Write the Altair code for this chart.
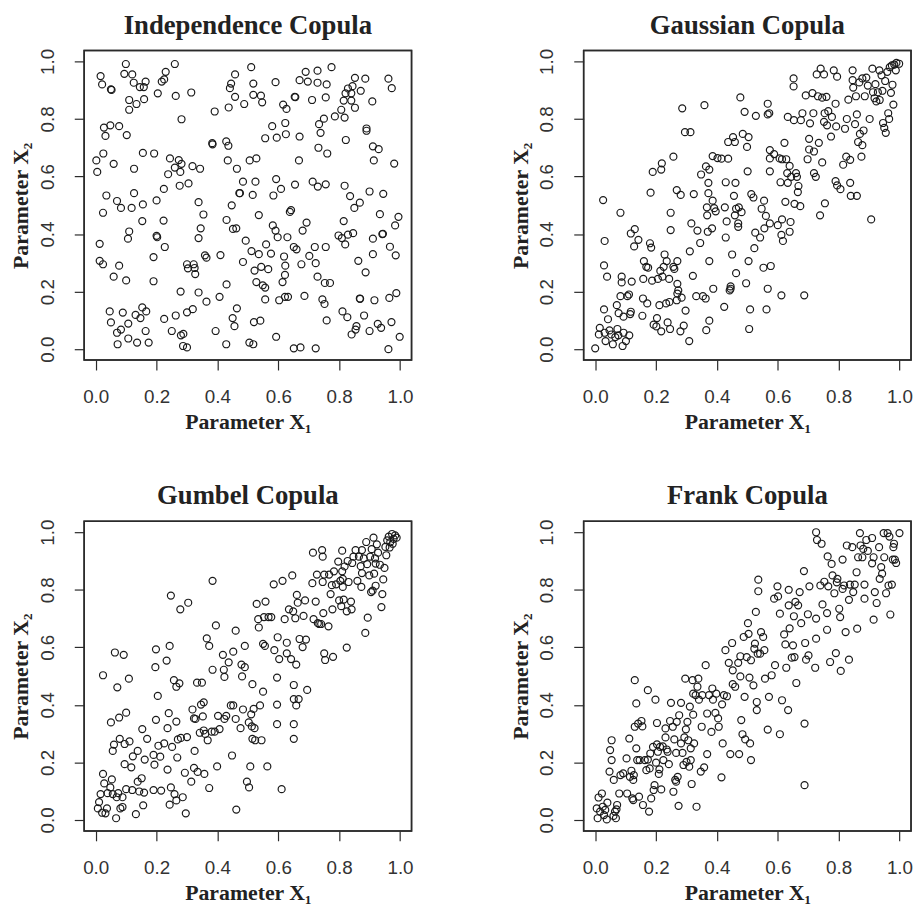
import altair as alt
import pandas as pd

# ---------------- data ----------------
independence_pts = [
    (0.099, 0.991), (0.26, 0.991), (0.511, 0.98), (0.775, 0.98), (0.016, 0.949), (0.021, 0.92),
    (0.094, 0.957), (0.12, 0.955), (0.125, 0.926), (0.145, 0.911), (0.164, 0.93), (0.158, 0.911),
    (0.23, 0.964), (0.225, 0.9375), (0.217, 0.93), (0.05, 0.903), (0.052, 0.901), (0.11, 0.866),
    (0.11, 0.832), (0.134, 0.852), (0.159, 0.869), (0.204, 0.889), (0.263, 0.88), (0.314, 0.892),
    (0.282, 0.799), (0.458, 0.955), (0.445, 0.923), (0.441, 0.907), (0.458, 0.877), (0.488, 0.852),
    (0.437, 0.84), (0.391, 0.826), (0.518, 0.923), (0.518, 0.884), (0.543, 0.881), (0.547, 0.858),
    (0.591, 0.928), (0.616, 0.85), (0.627, 0.835), (0.654, 0.877), (0.656, 0.876), (0.67, 0.935),
    (0.69, 0.964), (0.697, 0.93), (0.729, 0.968), (0.729, 0.926), (0.759, 0.92), (0.756, 0.875),
    (0.711, 0.866), (0.852, 0.943), (0.886, 0.94), (0.829, 0.906), (0.844, 0.914), (0.871, 0.898),
    (0.84, 0.889), (0.821, 0.889), (0.815, 0.864), (0.84, 0.864), (0.852, 0.839), (0.807, 0.832),
    (0.818, 0.805), (0.786, 0.809), (0.909, 0.861), (0.962, 0.94), (0.973, 0.907), (0.75, 0.801),
    (0.734, 0.782), (0.739, 0.752), (0.732, 0.7), (0.761, 0.68),
    (0.027, 0.77), (0.032, 0.741), (0.048, 0.778), (0.077, 0.775), (0.102, 0.744), (0.025, 0.68),
    (0.002, 0.656), (0.005, 0.616), (0.059, 0.644), (0.155, 0.682), (0.192, 0.68), (0.126, 0.627),
    (0.244, 0.663), (0.273, 0.657), (0.282, 0.644), (0.26, 0.631), (0.238, 0.608), (0.278, 0.616),
    (0.318, 0.636), (0.343, 0.627), (0.276, 0.568), (0.305, 0.576), (0.383, 0.716), (0.384, 0.712),
    (0.429, 0.722), (0.436, 0.707), (0.434, 0.656), (0.464, 0.627), (0.506, 0.656), (0.528, 0.663),
    (0.557, 0.733), (0.58, 0.775), (0.595, 0.735), (0.623, 0.786), (0.625, 0.747), (0.67, 0.739),
    (0.668, 0.656), (0.593, 0.591), (0.609, 0.557), (0.584, 0.534), (0.525, 0.582), (0.516, 0.536),
    (0.484, 0.582), (0.472, 0.542), (0.655, 0.572), (0.713, 0.582), (0.73, 0.565), (0.756, 0.573),
    (0.89, 0.767), (0.89, 0.759), (0.911, 0.705), (0.93, 0.695), (0.914, 0.656), (0.981, 0.645),
    (0.822, 0.727),
    (0.035, 0.534), (0.024, 0.474), (0.07, 0.515), (0.083, 0.491), (0.118, 0.491), (0.126, 0.542),
    (0.155, 0.503), (0.153, 0.445), (0.2, 0.517), (0.224, 0.557), (0.223, 0.447), (0.11, 0.409),
    (0.106, 0.384), (0.2, 0.394), (0.202, 0.389), (0.338, 0.511), (0.354, 0.468), (0.345, 0.42),
    (0.338, 0.386), (0.447, 0.5), (0.43, 0.449), (0.451, 0.418), (0.462, 0.42), (0.474, 0.542),
    (0.536, 0.466), (0.493, 0.377), (0.582, 0.43), (0.591, 0.412), (0.598, 0.389), (0.638, 0.477),
    (0.642, 0.483), (0.63, 0.389), (0.68, 0.412), (0.693, 0.44), (0.818, 0.568), (0.836, 0.532),
    (0.85, 0.491), (0.868, 0.509), (0.9, 0.548), (0.945, 0.54), (0.934, 0.469), (0.995, 0.46),
    (0.984, 0.43), (0.815, 0.445), (0.798, 0.395), (0.809, 0.386), (0.829, 0.398), (0.846, 0.403),
    (0.82, 0.364), (0.911, 0.384), (0.942, 0.4), (0.944, 0.401),
    (0.013, 0.366), (0.013, 0.307), (0.024, 0.295), (0.059, 0.252), (0.1, 0.239), (0.077, 0.29),
    (0.19, 0.32), (0.19, 0.236), (0.227, 0.355), (0.3, 0.295), (0.303, 0.281), (0.322, 0.295),
    (0.325, 0.282), (0.327, 0.261), (0.359, 0.326), (0.364, 0.318), (0.41, 0.327), (0.279, 0.2),
    (0.338, 0.197), (0.484, 0.303), (0.512, 0.341), (0.536, 0.33), (0.56, 0.364), (0.576, 0.332),
    (0.544, 0.286), (0.522, 0.273), (0.567, 0.278), (0.528, 0.233), (0.549, 0.222), (0.557, 0.214),
    (0.614, 0.233), (0.619, 0.322), (0.623, 0.29), (0.622, 0.258), (0.651, 0.355), (0.66, 0.347),
    (0.72, 0.355), (0.723, 0.299), (0.676, 0.295), (0.702, 0.324), (0.729, 0.252), (0.753, 0.23),
    (0.77, 0.23), (0.756, 0.355), (0.863, 0.307), (0.887, 0.267), (0.911, 0.33), (0.986, 0.326),
    (0.967, 0.356),
    (0.046, 0.131), (0.05, 0.093), (0.07, 0.057), (0.083, 0.068), (0.072, 0.017), (0.089, 0.127),
    (0.107, 0.089), (0.107, 0.037), (0.131, 0.119), (0.147, 0.108), (0.153, 0.145), (0.166, 0.131),
    (0.136, 0.023), (0.164, 0.063), (0.174, 0.023), (0.225, 0.105), (0.263, 0.117), (0.25, 0.063),
    (0.28, 0.048), (0.288, 0.053), (0.287, 0.011), (0.3, 0.006), (0.3, 0.128), (0.319, 0.139),
    (0.364, 0.165), (0.394, 0.063), (0.407, 0.182), (0.43, 0.225), (0.429, 0.017), (0.45, 0.108),
    (0.456, 0.08), (0.464, 0.142), (0.505, 0.023), (0.518, 0.017), (0.52, 0.094), (0.541, 0.099),
    (0.557, 0.173), (0.593, 0.043), (0.603, 0.17), (0.622, 0.182), (0.632, 0.182), (0.651, 0.003),
    (0.673, 0.006), (0.686, 0.185), (0.723, 0.003), (0.745, 0.173), (0.752, 0.157), (0.759, 0.1),
    (0.811, 0.131), (0.827, 0.111), (0.857, 0.08), (0.854, 0.068), (0.841, 0.051), (0.868, 0.176),
    (0.869, 0.175), (0.882, 0.117), (0.9, 0.063), (0.916, 0.17), (0.927, 0.088), (0.938, 0.074),
    (0.965, 0.178), (0.988, 0.195), (0.972, 0.094), (0.962, 0.0), (0.999, 0.043),
]

gaussian_pts = [
    (0.0, 0.003), (0.026, 0.518), (0.031, 0.376), (0.029, 0.291), (0.039, 0.252), (0.029, 0.138),
    (0.042, 0.104), (0.015, 0.074), (0.012, 0.051), (0.031, 0.057), (0.034, 0.028), (0.047, 0.065),
    (0.053, 0.051), (0.058, 0.017), (0.066, 0.042), (0.073, 0.07), (0.076, 0.048), (0.09, 0.011),
    (0.093, 0.057), (0.101, 0.028), (0.112, 0.048), (0.071, 0.153), (0.083, 0.474), (0.087, 0.252),
    (0.087, 0.232), (0.083, 0.184), (0.077, 0.125), (0.093, 0.113), (0.115, 0.122), (0.117, 0.13),
    (0.106, 0.184), (0.111, 0.19), (0.12, 0.235), (0.117, 0.402), (0.13, 0.417), (0.128, 0.357),
    (0.142, 0.38), (0.155, 0.116), (0.157, 0.176), (0.171, 0.159), (0.158, 0.244), (0.16, 0.306),
    (0.168, 0.286), (0.174, 0.283), (0.18, 0.368), (0.184, 0.353), (0.187, 0.238), (0.182, 0.544),
    (0.189, 0.616), (0.217, 0.624), (0.219, 0.646), (0.257, 0.669), (0.192, 0.085), (0.201, 0.079),
    (0.203, 0.108), (0.217, 0.062), (0.206, 0.244), (0.214, 0.272), (0.211, 0.153), (0.221, 0.252),
    (0.225, 0.286), (0.228, 0.329), (0.235, 0.306), (0.233, 0.159), (0.244, 0.164), (0.243, 0.244),
    (0.238, 0.093), (0.246, 0.07), (0.248, 0.414), (0.248, 0.474), (0.257, 0.286), (0.26, 0.279),
    (0.268, 0.553), (0.27, 0.306), (0.268, 0.17), (0.27, 0.193), (0.27, 0.227), (0.273, 0.204),
    (0.28, 0.062), (0.284, 0.179), (0.281, 0.536), (0.286, 0.837), (0.291, 0.082), (0.297, 0.134),
    (0.295, 0.754), (0.313, 0.754), (0.309, 0.028), (0.311, 0.34), (0.316, 0.437), (0.321, 0.255),
    (0.324, 0.539), (0.332, 0.184), (0.336, 0.412), (0.345, 0.369), (0.348, 0.607), (0.354, 0.184),
    (0.363, 0.176), (0.359, 0.848), (0.365, 0.066), (0.368, 0.465), (0.367, 0.493), (0.37, 0.408),
    (0.364, 0.635), (0.375, 0.624), (0.375, 0.099), (0.375, 0.306), (0.372, 0.542), (0.372, 0.578),
    (0.386, 0.671), (0.386, 0.516), (0.388, 0.21), (0.391, 0.49), (0.384, 0.42), (0.396, 0.479),
    (0.402, 0.664), (0.415, 0.662), (0.426, 0.493), (0.429, 0.58), (0.429, 0.388), (0.432, 0.444),
    (0.437, 0.662), (0.437, 0.72), (0.442, 0.204), (0.445, 0.21), (0.445, 0.218), (0.45, 0.329),
    (0.453, 0.737), (0.459, 0.465), (0.461, 0.578), (0.456, 0.533), (0.463, 0.488), (0.47, 0.437),
    (0.47, 0.425), (0.463, 0.264), (0.459, 0.72), (0.472, 0.493), (0.477, 0.875), (0.481, 0.476),
    (0.424, 0.147), (0.485, 0.748), (0.491, 0.825), (0.499, 0.703), (0.504, 0.737), (0.501, 0.618),
    (0.496, 0.229), (0.504, 0.306), (0.506, 0.07), (0.509, 0.138), (0.513, 0.539), (0.52, 0.527),
    (0.523, 0.351), (0.526, 0.405), (0.528, 0.811), (0.542, 0.388), (0.547, 0.488), (0.553, 0.283),
    (0.555, 0.516), (0.556, 0.42), (0.561, 0.463), (0.567, 0.816), (0.567, 0.853), (0.572, 0.82),
    (0.563, 0.138), (0.567, 0.21), (0.574, 0.618), (0.574, 0.692), (0.574, 0.663), (0.577, 0.289),
    (0.574, 0.437), (0.588, 0.678), (0.6, 0.431), (0.606, 0.663), (0.609, 0.58), (0.612, 0.187),
    (0.614, 0.66), (0.612, 0.397), (0.614, 0.451), (0.617, 0.376), (0.622, 0.717), (0.625, 0.512),
    (0.628, 0.66), (0.631, 0.612), (0.633, 0.578), (0.633, 0.807), (0.639, 0.408), (0.642, 0.442),
    (0.639, 0.637), (0.644, 0.599), (0.652, 0.941), (0.652, 0.913), (0.653, 0.796), (0.655, 0.505),
    (0.66, 0.612), (0.663, 0.599), (0.666, 0.546), (0.668, 0.567), (0.674, 0.497), (0.676, 0.796),
    (0.681, 0.82), (0.687, 0.187), (0.692, 0.882), (0.698, 0.66), (0.703, 0.694), (0.703, 0.731),
    (0.706, 0.785), (0.714, 0.89), (0.717, 0.82), (0.719, 0.687), (0.719, 0.612), (0.725, 0.599),
    (0.728, 0.955), (0.732, 0.879), (0.735, 0.717), (0.739, 0.465), (0.741, 0.975), (0.746, 0.649),
    (0.746, 0.874), (0.752, 0.955), (0.752, 0.79), (0.754, 0.82), (0.755, 0.507), (0.76, 0.877),
    (0.762, 0.778), (0.775, 0.739), (0.778, 0.807), (0.784, 0.969), (0.795, 0.947), (0.79, 0.853),
    (0.792, 0.774), (0.79, 0.584), (0.795, 0.569), (0.806, 0.556), (0.815, 0.641), (0.821, 0.766),
    (0.827, 0.8), (0.825, 0.669), (0.832, 0.867), (0.838, 0.578), (0.838, 0.658), (0.84, 0.533),
    (0.846, 0.969), (0.846, 0.935), (0.848, 0.909), (0.854, 0.782), (0.857, 0.879), (0.86, 0.816),
    (0.86, 0.533), (0.868, 0.927), (0.864, 0.72), (0.87, 0.748), (0.878, 0.941), (0.875, 0.669),
    (0.878, 0.709), (0.882, 0.76), (0.886, 0.879), (0.891, 0.944), (0.896, 0.916), (0.902, 0.8),
    (0.907, 0.451), (0.911, 0.975), (0.913, 0.893), (0.918, 0.872), (0.921, 0.921), (0.924, 0.861),
    (0.929, 0.893), (0.934, 0.969), (0.935, 0.866), (0.941, 0.952), (0.944, 0.898), (0.946, 0.786),
    (0.95, 0.769), (0.955, 0.752), (0.953, 0.932), (0.96, 0.964), (0.963, 0.82), (0.968, 0.98),
    (0.972, 0.891), (0.975, 0.986), (0.977, 0.919), (0.98, 0.85), (0.983, 0.989), (0.988, 0.969),
    (0.99, 0.995), (0.999, 0.992), (0.966, 0.8), (0.766, 0.827),
]

gumbel_pts = [
    (0.016, 0.09), (0.024, 0.503), (0.011, 0.062), (0.007, 0.04), (0.021, 0.025), (0.032, 0.023),
    (0.037, 0.04), (0.024, 0.16), (0.028, 0.127), (0.039, 0.093), (0.048, 0.113), (0.053, 0.141),
    (0.056, 0.09), (0.05, 0.339), (0.056, 0.24), (0.06, 0.262), (0.063, 0.582), (0.067, 0.006),
    (0.069, 0.079), (0.071, 0.461), (0.077, 0.356), (0.079, 0.282), (0.074, 0.093), (0.081, 0.04),
    (0.088, 0.045), (0.088, 0.079), (0.092, 0.574), (0.095, 0.264), (0.095, 0.194), (0.1, 0.373),
    (0.1, 0.107), (0.109, 0.491), (0.111, 0.273), (0.117, 0.183), (0.12, 0.104), (0.122, 0.221),
    (0.132, 0.02), (0.138, 0.24), (0.138, 0.133), (0.143, 0.099), (0.151, 0.145), (0.153, 0.316),
    (0.156, 0.051), (0.161, 0.21), (0.159, 0.095), (0.169, 0.282), (0.19, 0.226), (0.19, 0.104),
    (0.193, 0.192), (0.198, 0.593), (0.196, 0.531), (0.198, 0.348), (0.204, 0.431), (0.206, 0.258),
    (0.212, 0.22), (0.215, 0.102), (0.225, 0.266), (0.233, 0.554), (0.236, 0.175), (0.236, 0.319),
    (0.24, 0.371), (0.243, 0.053), (0.247, 0.78), (0.243, 0.605), (0.247, 0.113), (0.251, 0.254),
    (0.257, 0.486), (0.259, 0.09), (0.265, 0.068), (0.265, 0.342), (0.268, 0.217), (0.265, 0.463),
    (0.27, 0.28), (0.275, 0.475), (0.278, 0.732), (0.28, 0.285), (0.286, 0.079), (0.293, 0.164),
    (0.296, 0.023), (0.3, 0.288), (0.304, 0.755), (0.318, 0.384), (0.323, 0.353), (0.325, 0.24),
    (0.323, 0.181), (0.314, 0.133), (0.333, 0.477), (0.328, 0.351), (0.335, 0.167), (0.342, 0.303),
    (0.346, 0.401), (0.349, 0.477), (0.355, 0.409), (0.352, 0.36), (0.357, 0.16), (0.355, 0.311),
    (0.36, 0.299), (0.365, 0.631), (0.368, 0.277), (0.373, 0.605), (0.373, 0.111), (0.381, 0.307),
    (0.384, 0.522), (0.384, 0.831), (0.391, 0.307), (0.395, 0.676), (0.399, 0.186), (0.402, 0.362),
    (0.407, 0.316), (0.418, 0.574), (0.421, 0.522), (0.423, 0.497), (0.423, 0.351), (0.429, 0.362),
    (0.437, 0.548), (0.444, 0.398), (0.448, 0.224), (0.452, 0.585), (0.452, 0.398), (0.46, 0.351),
    (0.46, 0.658), (0.462, 0.036), (0.476, 0.319), (0.479, 0.54), (0.481, 0.499), (0.484, 0.384),
    (0.49, 0.605), (0.49, 0.531), (0.497, 0.133), (0.503, 0.339), (0.504, 0.113), (0.508, 0.186),
    (0.511, 0.367), (0.513, 0.325), (0.515, 0.282), (0.515, 0.472), (0.519, 0.386), (0.522, 0.319),
    (0.524, 0.277), (0.529, 0.751), (0.534, 0.698), (0.536, 0.669), (0.54, 0.398), (0.545, 0.277),
    (0.55, 0.612), (0.55, 0.446), (0.553, 0.705), (0.556, 0.605), (0.558, 0.759), (0.564, 0.186),
    (0.568, 0.705), (0.577, 0.705), (0.585, 0.819), (0.587, 0.59), (0.596, 0.495), (0.596, 0.401),
    (0.596, 0.333), (0.598, 0.635), (0.603, 0.559), (0.611, 0.107), (0.614, 0.831), (0.621, 0.698),
    (0.628, 0.616), (0.628, 0.579), (0.635, 0.732), (0.642, 0.559), (0.646, 0.85), (0.649, 0.725),
    (0.651, 0.469), (0.651, 0.42), (0.651, 0.333), (0.651, 0.282), (0.656, 0.701), (0.659, 0.54),
    (0.659, 0.398), (0.661, 0.782), (0.664, 0.755), (0.667, 0.42), (0.67, 0.629), (0.68, 0.601),
    (0.683, 0.709), (0.688, 0.763), (0.691, 0.627), (0.695, 0.452), (0.712, 0.823), (0.714, 0.929),
    (0.716, 0.698), (0.723, 0.759), (0.727, 0.853), (0.73, 0.684), (0.735, 0.681), (0.741, 0.681),
    (0.744, 0.938), (0.746, 0.915), (0.746, 0.827), (0.748, 0.719), (0.751, 0.579), (0.754, 0.556),
    (0.751, 0.853), (0.765, 0.673), (0.767, 0.853), (0.772, 0.785), (0.776, 0.816), (0.778, 0.732),
    (0.78, 0.567), (0.783, 0.864), (0.79, 0.819), (0.797, 0.898), (0.8, 0.763), (0.804, 0.831),
    (0.807, 0.743), (0.81, 0.936), (0.81, 0.864), (0.812, 0.81), (0.815, 0.766), (0.818, 0.881),
    (0.825, 0.725), (0.825, 0.599), (0.828, 0.9), (0.831, 0.827), (0.839, 0.759), (0.841, 0.732),
    (0.843, 0.893), (0.847, 0.915), (0.854, 0.938), (0.86, 0.831), (0.865, 0.915), (0.871, 0.882),
    (0.873, 0.81), (0.875, 0.938), (0.881, 0.909), (0.886, 0.65), (0.889, 0.966), (0.892, 0.889),
    (0.894, 0.703), (0.899, 0.85), (0.902, 0.915), (0.907, 0.941), (0.91, 0.797), (0.913, 0.981),
    (0.915, 0.856), (0.918, 0.909), (0.92, 0.891), (0.924, 0.958), (0.928, 0.929), (0.934, 0.887),
    (0.939, 0.74), (0.942, 0.785), (0.945, 0.836), (0.949, 0.876), (0.952, 0.949), (0.955, 0.92),
    (0.958, 0.972), (0.963, 0.985), (0.968, 0.966), (0.974, 0.994), (0.979, 0.977), (0.984, 0.989),
    (0.989, 0.981), (0.976, 0.96), (0.966, 0.947), (0.92, 0.814), (0.905, 0.792), (0.875, 0.858),
    (0.812, 0.838),
]

frank_pts = [
    (0.008, 0.006), (0.005, 0.04), (0.011, 0.078), (0.016, 0.029), (0.022, 0.092), (0.025, 0.046),
    (0.029, 0.017), (0.033, 0.035), (0.038, 0.002), (0.04, 0.06), (0.047, 0.168), (0.049, 0.243),
    (0.054, 0.208), (0.054, 0.277), (0.06, 0.014), (0.061, 0.139), (0.065, 0.029), (0.068, 0.006),
    (0.07, 0.037), (0.072, 0.052), (0.079, 0.092), (0.083, 0.156), (0.092, 0.162), (0.103, 0.214),
    (0.105, 0.092), (0.112, 0.283), (0.114, 0.15), (0.119, 0.171), (0.122, 0.075), (0.125, 0.139),
    (0.125, 0.069), (0.127, 0.156), (0.13, 0.486), (0.13, 0.324), (0.135, 0.405), (0.135, 0.249),
    (0.138, 0.208), (0.141, 0.335), (0.144, 0.081), (0.146, 0.208), (0.152, 0.344), (0.155, 0.325),
    (0.157, 0.052), (0.163, 0.208), (0.168, 0.173), (0.173, 0.451), (0.173, 0.21), (0.177, 0.029),
    (0.179, 0.179), (0.181, 0.231), (0.184, 0.075), (0.19, 0.254), (0.192, 0.104), (0.195, 0.121),
    (0.198, 0.418), (0.2, 0.199), (0.203, 0.337), (0.203, 0.263), (0.206, 0.237), (0.209, 0.16),
    (0.211, 0.176), (0.213, 0.254), (0.217, 0.106), (0.222, 0.256), (0.224, 0.208), (0.231, 0.287),
    (0.231, 0.318), (0.235, 0.245), (0.238, 0.237), (0.242, 0.194), (0.246, 0.344), (0.249, 0.407),
    (0.255, 0.324), (0.26, 0.28), (0.257, 0.098), (0.263, 0.139), (0.266, 0.133), (0.266, 0.233),
    (0.268, 0.341), (0.271, 0.15), (0.274, 0.049), (0.276, 0.364), (0.282, 0.407), (0.282, 0.266),
    (0.287, 0.233), (0.29, 0.191), (0.293, 0.287), (0.296, 0.491), (0.298, 0.315), (0.3, 0.202),
    (0.303, 0.341), (0.306, 0.277), (0.309, 0.185), (0.311, 0.394), (0.314, 0.249), (0.314, 0.208),
    (0.317, 0.125), (0.32, 0.486), (0.322, 0.366), (0.322, 0.439), (0.325, 0.266), (0.33, 0.434),
    (0.333, 0.046), (0.336, 0.463), (0.339, 0.491), (0.341, 0.418), (0.347, 0.168), (0.35, 0.324),
    (0.352, 0.434), (0.358, 0.183), (0.363, 0.538), (0.368, 0.37), (0.368, 0.229), (0.374, 0.434),
    (0.382, 0.306), (0.385, 0.457), (0.387, 0.418), (0.395, 0.372), (0.398, 0.439), (0.404, 0.353),
    (0.406, 0.324), (0.415, 0.148), (0.417, 0.402), (0.419, 0.266), (0.423, 0.434), (0.428, 0.59),
    (0.433, 0.43), (0.439, 0.546), (0.444, 0.229), (0.45, 0.615), (0.452, 0.52), (0.452, 0.472),
    (0.46, 0.463), (0.47, 0.546), (0.473, 0.229), (0.477, 0.569), (0.477, 0.499), (0.48, 0.347),
    (0.484, 0.298), (0.488, 0.636), (0.491, 0.428), (0.493, 0.28), (0.498, 0.566), (0.502, 0.684),
    (0.504, 0.647), (0.507, 0.495), (0.509, 0.266), (0.512, 0.208), (0.512, 0.555), (0.52, 0.468),
    (0.523, 0.595), (0.525, 0.613), (0.528, 0.723), (0.531, 0.382), (0.531, 0.41), (0.534, 0.578),
    (0.536, 0.835), (0.536, 0.795), (0.542, 0.578), (0.545, 0.653), (0.552, 0.636), (0.556, 0.59),
    (0.558, 0.491), (0.567, 0.314), (0.571, 0.428), (0.58, 0.503), (0.588, 0.769), (0.591, 0.538),
    (0.599, 0.812), (0.601, 0.777), (0.607, 0.717), (0.607, 0.298), (0.614, 0.416), (0.621, 0.645),
    (0.625, 0.61), (0.628, 0.529), (0.634, 0.382), (0.636, 0.8), (0.636, 0.746), (0.639, 0.666),
    (0.646, 0.564), (0.65, 0.607), (0.653, 0.708), (0.655, 0.566), (0.658, 0.758), (0.661, 0.476),
    (0.667, 0.746), (0.672, 0.792), (0.677, 0.684), (0.686, 0.865), (0.688, 0.335), (0.688, 0.121),
    (0.69, 0.615), (0.693, 0.557), (0.699, 0.715), (0.701, 0.572), (0.704, 0.812), (0.723, 0.529),
    (0.726, 0.7), (0.726, 0.63), (0.726, 1.0), (0.729, 0.973), (0.74, 0.815), (0.744, 0.96),
    (0.747, 0.749), (0.753, 0.828), (0.762, 0.661), (0.762, 0.719), (0.764, 0.916), (0.766, 0.812),
    (0.772, 0.549), (0.777, 0.89), (0.78, 0.85), (0.786, 0.788), (0.791, 0.58), (0.794, 0.826),
    (0.796, 0.838), (0.802, 0.734), (0.805, 0.705), (0.807, 0.518), (0.813, 0.905), (0.813, 0.803),
    (0.818, 0.815), (0.823, 0.653), (0.827, 0.954), (0.834, 0.765), (0.834, 0.557), (0.837, 0.818),
    (0.845, 0.948), (0.848, 0.792), (0.853, 0.818), (0.859, 0.861), (0.861, 0.665), (0.864, 0.913),
    (0.87, 0.997), (0.872, 0.954), (0.878, 0.913), (0.881, 0.942), (0.885, 0.818), (0.885, 0.769),
    (0.891, 0.973), (0.896, 0.935), (0.91, 0.98), (0.91, 0.892), (0.915, 0.696), (0.915, 0.913),
    (0.919, 0.792), (0.925, 0.754), (0.933, 0.948), (0.935, 0.838), (0.94, 0.879), (0.943, 0.856),
    (0.948, 0.997), (0.95, 0.913), (0.956, 0.788), (0.961, 0.997), (0.964, 0.815), (0.967, 0.985),
    (0.97, 0.714), (0.975, 0.818), (0.978, 0.905), (0.982, 0.96), (0.985, 0.905), (0.989, 0.893),
    (1.0, 0.997), (0.98, 0.948),
]

titles = ["Independence  Copula", "Gaussian  Copula", "Gumbel  Copula", "Frank  Copula"]
tick_values = [0.0, 0.2, 0.4, 0.6, 0.8, 1.0]
x_title = "Parameter X\u2081"
y_title = "Parameter X\u2082"

SERIF = "Liberation Serif"
SANS = "Liberation Sans"
PW, PH = 331, 313
INK = "#2a2a2a"


def panel(pts, title):
    df = pd.DataFrame(pts, columns=["x1", "x2"])
    scale = alt.Scale(domain=[-0.038, 1.038], nice=False, zero=False)
    points = (
        alt.Chart(df)
        .mark_point(shape="circle", filled=False, size=50, color="#1a1a1a",
                    strokeWidth=1.2, opacity=1)
        .encode(
            x=alt.X("x1:Q", scale=scale,
                    axis=alt.Axis(values=tick_values, format=".1f", title=x_title,
                                  labelPadding=18, titlePadding=5,
                                  minExtent=47, maxExtent=47)),
            y=alt.Y("x2:Q", scale=scale,
                    axis=alt.Axis(values=tick_values, format=".1f", title=y_title,
                                  labelAngle=270, labelAlign="center", labelBaseline="bottom",
                                  labelPadding=17, titlePadding=6,
                                  minExtent=46, maxExtent=46)),
        )
    )
    frame = (
        alt.Chart(pd.DataFrame({"k": [0]}))
        .mark_rect(filled=False, stroke=INK, strokeWidth=1.5, fillOpacity=0)
        .encode(x=alt.value(0), x2=alt.value(PW), y=alt.value(0), y2=alt.value(PH))
    )
    return alt.layer(points, frame).properties(
        width=PW, height=PH,
        title=alt.Title(title, font=SERIF, fontSize=27, fontWeight="bold", color="#222222",
                        anchor="middle", baseline="alphabetic", offset=-12),
    )


row1 = alt.hconcat(panel(independence_pts, titles[0]), panel(gaussian_pts, titles[1]), spacing=95)
row2 = alt.hconcat(panel(gumbel_pts, titles[2]), panel(frank_pts, titles[3]), spacing=95)

chart = (
    alt.vconcat(row1, row2, spacing=49)
    .properties(padding={"left": 1, "top": -2, "right": 0, "bottom": 0}, background="white")
    .configure_view(stroke=INK, strokeWidth=1.5)
    .configure_axis(
        domain=False, grid=False, ticks=True, tickSize=10, tickColor=INK, tickWidth=1.2,
        labelFont=SANS, labelFontSize=19, labelColor="#333333",
        titleFont=SERIF, titleFontSize=22, titleFontWeight="bold", titleColor="#222222",
    )
)

chart.save("out.html", embed_options={"renderer": "svg", "actions": False})
